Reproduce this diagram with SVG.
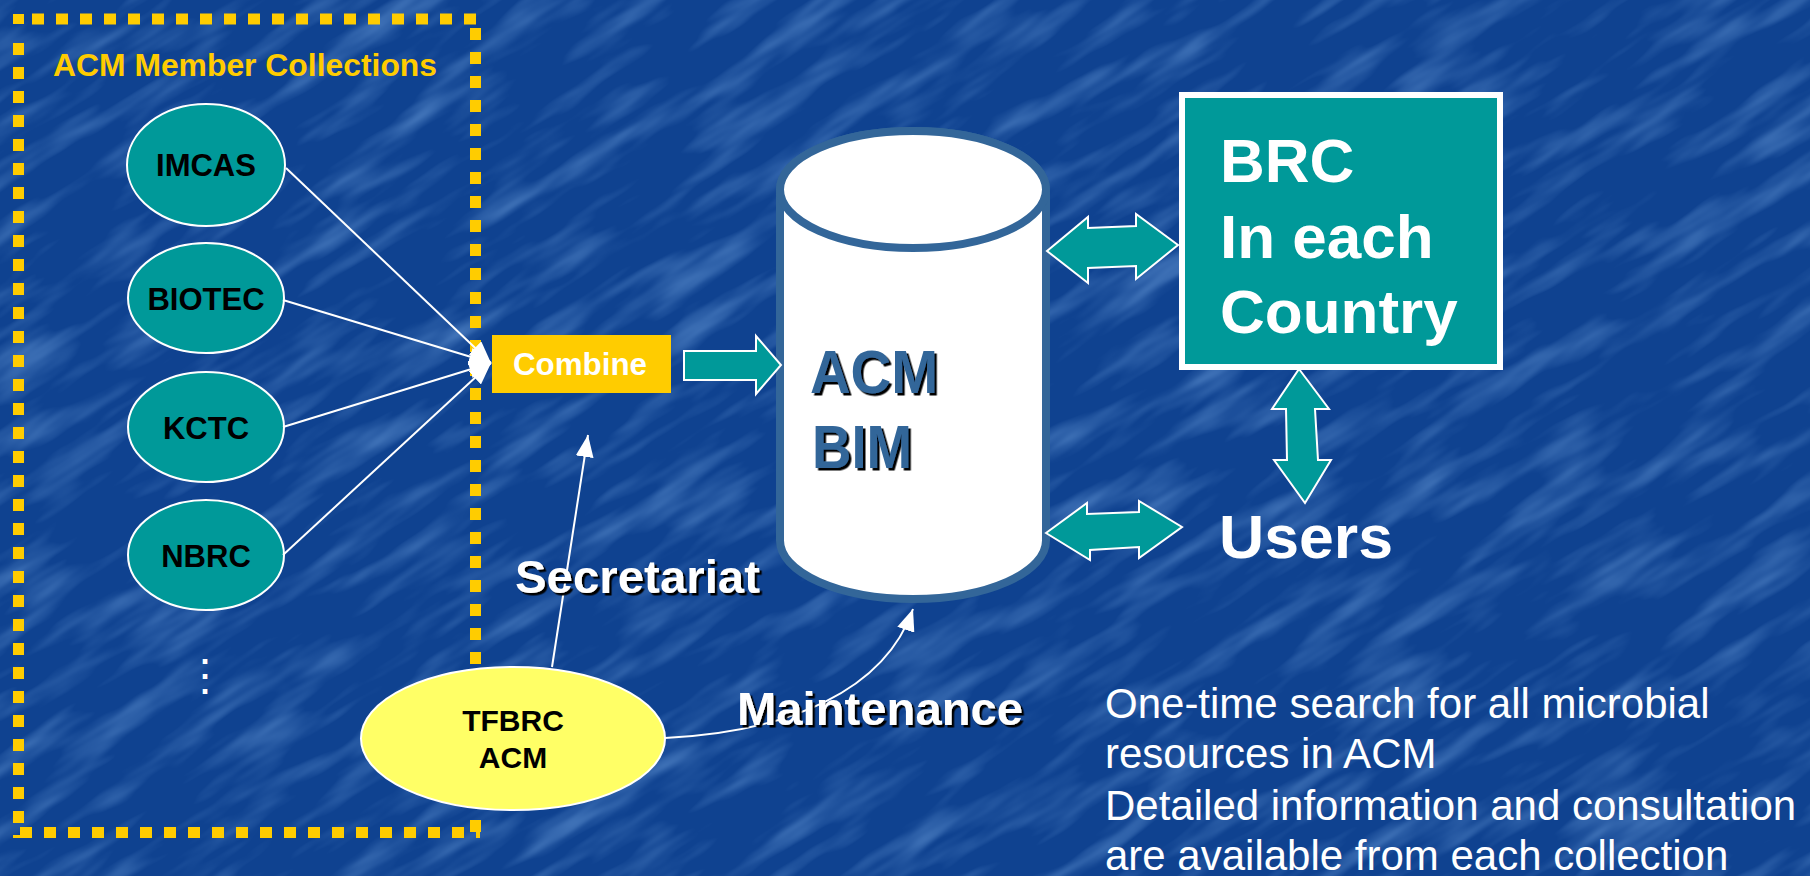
<svg xmlns="http://www.w3.org/2000/svg" width="1810" height="876" viewBox="0 0 1810 876">
<defs>
<style>
.b{font-family:"Liberation Sans",Arial,sans-serif;font-weight:bold}
.r{font-family:"Liberation Sans",Arial,sans-serif}
.coll{fill:#009999;stroke:#fff;stroke-width:2}
.lbl{fill:#000;font-size:31px;text-anchor:middle}
.wl{fill:none;stroke:#fff;stroke-width:2}
.blk{fill:#009999;stroke:#fff;stroke-width:2;stroke-linejoin:miter}
.dash{stroke:#FFCC00;stroke-width:11;stroke-dasharray:12 12;fill:none}
.sh{filter:url(#shadow)}
</style>
<marker id="ah" viewBox="0 0 22 18" refX="22" refY="9" markerWidth="22" markerHeight="18" markerUnits="userSpaceOnUse" orient="auto"><path d="M0,0 L22,9 L0,18 Z" fill="#fff"/></marker>
<filter id="shadow" x="-5%" y="-10%" width="115%" height="130%"><feDropShadow dx="2.5" dy="2.5" stdDeviation="0" flood-color="#000" flood-opacity="1"/></filter>
<filter id="tex" x="0" y="0" width="100%" height="100%">
<feTurbulence type="fractalNoise" baseFrequency="0.008 0.04" numOctaves="3" seed="7"/>
<feColorMatrix type="matrix" values="0 0 0 0 0.25 0 0 0 0 0.5 0 0 0 0 0.9 0 0 0 0.9 -0.42"/>
</filter>
</defs>
<rect width="1810" height="876" fill="#0F4290"/>
<g transform="rotate(-32 905 438)"><rect x="-600" y="-800" width="3000" height="2500" filter="url(#tex)"/></g>

<g id="member-collections">
<rect x="13" y="14" width="11" height="10" fill="#FFCC00"/>
<line class="dash" x1="32" y1="19" x2="482" y2="19"/>
<line class="dash" x1="475.5" y1="28" x2="475.5" y2="838"/>
<line class="dash" x1="20" y1="832.5" x2="480" y2="832.5"/>
<line class="dash" x1="18.5" y1="43" x2="18.5" y2="838"/>
<text class="b" x="53" y="76" font-size="32" fill="#FFCC00" textLength="384" lengthAdjust="spacingAndGlyphs">ACM Member Collections</text>
</g>

<g id="node-imcas"><ellipse class="coll" cx="206" cy="165" rx="79" ry="61"/><text class="b lbl" x="206" y="176">IMCAS</text></g>
<g id="node-biotec"><ellipse class="coll" cx="206" cy="298" rx="78" ry="55"/><text class="b lbl" x="206" y="310">BIOTEC</text></g>
<g id="node-kctc"><ellipse class="coll" cx="206" cy="427" rx="78" ry="55"/><text class="b lbl" x="206" y="439">KCTC</text></g>
<g id="node-nbrc"><ellipse class="coll" cx="206" cy="555" rx="78" ry="55"/><text class="b lbl" x="206" y="567">NBRC</text></g>
<g id="node-more"><text class="r" x="205" y="690" font-size="44" fill="#fff" text-anchor="middle" font-family="DejaVu Sans">⋮</text></g>

<g id="node-combine"><rect x="492" y="335" width="179" height="58" fill="#FFCC00"/><text class="b" x="513" y="375" font-size="31" fill="#fff" textLength="134" lengthAdjust="spacingAndGlyphs">Combine</text></g>

<g id="node-bim">
<path d="M780,189.5 L780,540.5 A133,58.5 0 0 0 1046,540.5 L1046,189.5 A133,58.5 0 0 0 780,189.5 Z" fill="#fff" stroke="#336699" stroke-width="8"/>
<ellipse cx="913" cy="189.5" rx="133" ry="58.5" fill="#fff" stroke="#336699" stroke-width="8"/>
<text class="b sh" x="810" y="393" font-size="62" fill="#336699" textLength="128" lengthAdjust="spacingAndGlyphs">ACM</text>
<text class="b sh" x="812" y="468" font-size="62" fill="#336699" textLength="100" lengthAdjust="spacingAndGlyphs">BIM</text>
</g>

<g id="node-brc"><rect x="1182" y="95" width="318" height="272" fill="#009999" stroke="#fff" stroke-width="6"/>
<text class="b" font-size="62" fill="#fff"><tspan x="1220" y="182">BRC</tspan><tspan x="1220" y="258">In each</tspan><tspan x="1220" y="333">Country</tspan></text></g>

<g id="node-users"><text class="b" x="1219" y="558" font-size="62" fill="#fff" textLength="174" lengthAdjust="spacingAndGlyphs">Users</text></g>

<g id="node-tfbrc"><ellipse cx="513" cy="738.5" rx="152" ry="71.5" fill="#FFFF66" stroke="#fff" stroke-width="2"/>
<text class="b" x="513" y="731" font-size="30" fill="#000" text-anchor="middle">TFBRC</text>
<text class="b" x="513" y="768" font-size="30" fill="#000" text-anchor="middle">ACM</text></g>

<g id="connectors">
<line class="wl" x1="286" y1="168" x2="491" y2="363" marker-end="url(#ah)"/>
<line class="wl" x1="283" y1="300" x2="491" y2="363" marker-end="url(#ah)"/>
<line class="wl" x1="283" y1="427" x2="491" y2="363" marker-end="url(#ah)"/>
<line class="wl" x1="283" y1="555" x2="491" y2="363" marker-end="url(#ah)"/>
<polygon class="blk" points="684,351 756,351 756,336 781,365 756,394 756,380 684,380"/>
<polygon class="blk" points="1047,251 1088,217 1088,228 1136,226 1136,214 1178,245 1136,279 1136,266 1088,268 1088,283"/>
<polygon class="blk" points="1299,369 1329,409 1315,409 1318,460 1331,460 1305,503 1274,460 1287,460 1286,409 1272,409"/>
<polygon class="blk" points="1046,533 1087,503 1087,514 1139,512 1139,501 1182,527 1139,558 1139,547 1090,550 1090,560"/>
<line class="wl" x1="552" y1="667" x2="588" y2="435" marker-end="url(#ah)"/>
<path class="wl" d="M665,738 C790,732 885,690 913,609" marker-end="url(#ah)"/>
<text class="b sh" x="515" y="593" font-size="47" fill="#fff" textLength="245" lengthAdjust="spacingAndGlyphs">Secretariat</text>
<text class="b sh" x="737" y="725" font-size="47" fill="#fff" textLength="286" lengthAdjust="spacingAndGlyphs">Maintenance</text>
</g>

<g id="note">
<text class="r" font-size="42" fill="#fff"><tspan x="1105" y="718">One-time search for all microbial</tspan><tspan x="1105" y="768">resources in ACM</tspan><tspan x="1105" y="820">Detailed information and consultation</tspan><tspan x="1105" y="870">are available from each collection</tspan></text>
</g>
</svg>
